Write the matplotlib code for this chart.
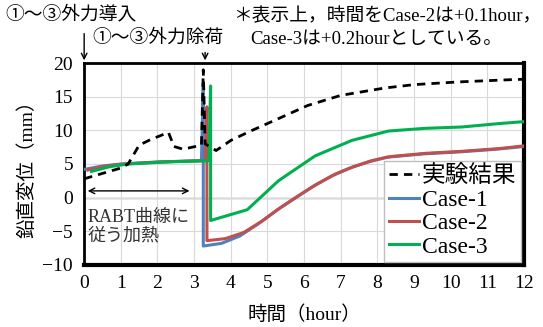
import numpy as np
import matplotlib.pyplot as plt

plt.rcParams['font.family'] = ['Liberation Serif', 'Noto Sans CJK JP', 'DejaVu Sans']

# experiment (dashed)
exp_t = [0.0, 0.5, 1.0, 1.2, 1.5, 1.8, 2.3, 2.45, 2.7, 3.2, 3.25, 3.3, 3.6, 4.0, 4.5,
         5.2, 6.1, 7.0, 8.2, 9.0, 10.2, 11.7, 12.0]
exp_d = [2.8, 3.6, 4.4, 5.0, 7.8, 8.6, 9.7, 7.6, 7.2, 7.8, 19.0, 8.0, 7.0, 8.5, 9.8,
         11.5, 13.7, 15.2, 16.3, 16.8, 17.2, 17.55, 17.6]

# Case-1
c1_t = [0.0, 0.5, 1.0, 2.0, 3.2, 3.25, 3.25, 3.75, 4.25, 4.75, 5.25, 5.75, 6.25, 6.75,
        7.25, 7.75, 8.25, 9.25, 10.25, 11.25, 12.0]
c1_d = [4.2, 4.7, 5.0, 5.3, 5.5, 17.0, -7.2, -6.8, -5.7, -3.9, -1.9, -0.1, 1.7, 3.2,
        4.4, 5.3, 6.0, 6.5, 6.8, 7.2, 7.6]

# Case-2 (+0.1 hour)
c2_t = [0.1, 0.6, 1.1, 2.1, 3.3, 3.35, 3.35, 3.85, 4.35, 4.85, 5.35, 5.85, 6.35, 6.85,
        7.35, 7.85, 8.35, 9.35, 10.35, 11.35, 12.0]
c2_d = [4.1, 4.7, 5.0, 5.3, 5.5, 13.5, -6.4, -6.1, -5.2, -3.5, -1.5, 0.3, 2.0, 3.5,
        4.6, 5.5, 6.1, 6.6, 6.9, 7.3, 7.7]

# Case-3 (+0.2 hour)
c3_t = [0.2, 0.7, 1.2, 2.2, 3.4, 3.45, 3.45, 4.45, 5.3, 6.3, 7.3, 8.3, 9.3, 10.3, 11.3, 12.0]
c3_d = [3.9, 4.6, 5.0, 5.3, 5.5, 16.6, -3.4, -1.8, 2.5, 6.2, 8.5, 9.9, 10.3, 10.5, 11.0, 11.3]

fig = plt.figure(figsize=(5.43, 3.27), dpi=100)
ax = fig.add_axes([0.155, 0.19, 0.81, 0.617])

ax.grid(True, color='#d9d9d9', lw=0.8)
ax.axhline(0, color='#8c8c8c', lw=1.0, zorder=1)

ax.plot(exp_t, exp_d, color='black', lw=2, dashes=(3, 2.2), label='実験結果', zorder=5)
ax.plot(c1_t, c1_d, color='#4F81BD', lw=2.2, label='Case-1', zorder=3)
ax.plot(c2_t, c2_d, color='#C0504D', lw=2.2, label='Case-2', zorder=3)
ax.plot(c3_t, c3_d, color='#00B050', lw=2.2, label='Case-3', zorder=4)

ax.set_xlim(0, 12)
ax.set_ylim(-10, 20)
ax.set_xticks(np.arange(0, 13, 1))
ax.set_yticks(np.arange(-10, 21, 5))
ax.tick_params(length=0, labelsize=14)
ax.tick_params(axis='x', pad=7)
ax.tick_params(axis='y', pad=8)
ax.set_yticklabels(['−10', '−5', '0', '5', '10', '15', '20'])
for s in ax.spines.values():
    s.set_linewidth(2)
ax.spines['right'].set_linewidth(3)
ax.spines['bottom'].set_linewidth(3)

ax.set_xlabel('時間（hour）', fontsize=14, labelpad=10)
ax.set_ylabel('鉛直変位（mm）', fontsize=14, labelpad=4)

leg = ax.legend(loc='lower right', bbox_to_anchor=(0.993, 0.012), fontsize=17,
                handlelength=1.3, handletextpad=0.1, labelspacing=0.08,
                borderpad=0.2, fancybox=False, framealpha=1, borderaxespad=0)
leg.get_frame().set_edgecolor('#bfbfbf')
leg.get_frame().set_linewidth(1)

# heating arrow and text
ax.annotate('', xy=(0.02, 1.0), xytext=(2.95, 1.0),
            arrowprops=dict(arrowstyle='<->', color='black', lw=1))
ax.text(0.08, -1.7, 'RABT曲線に\n従う加熱', fontsize=13, va='top', ha='left',
        color='#333333', linespacing=1.1)

# top annotations
ax.annotate('', xy=(0, 20), xytext=(0, 24.8), annotation_clip=False,
            arrowprops=dict(arrowstyle='->', color='black', lw=1))
ax.annotate('', xy=(3.3, 20), xytext=(3.3, 22.0), annotation_clip=False,
            arrowprops=dict(arrowstyle='->', color='black', lw=1))
fig.text(0.009, 0.957, '①～③外力導入', fontsize=13.5, va='center', ha='left')
fig.text(0.171, 0.884, '①～③外力除荷', fontsize=13.5, va='center', ha='left')
fig.text(0.429, 0.951, '＊表示上，時間をCase-2は+0.1hour，', fontsize=13.5, va='center', ha='left')
fig.text(0.46, 0.878, 'Case-3は+0.2hourとしている。', fontsize=13.5, va='center', ha='left')

fig.savefig('out.png', dpi=100)
